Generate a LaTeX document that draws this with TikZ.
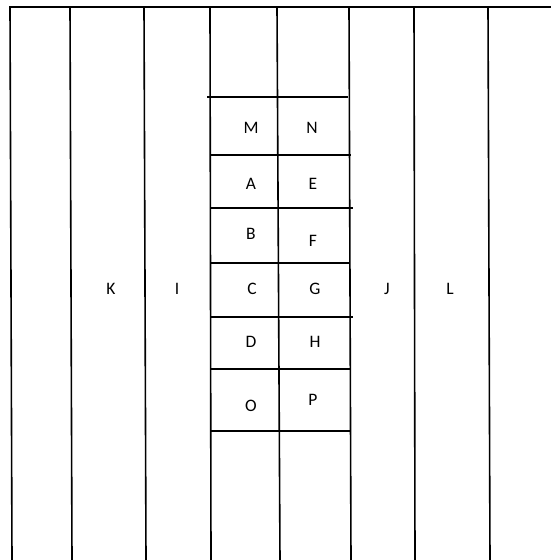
\documentclass[tikz,border=0pt]{standalone}
\usepackage{fontspec}
\setmainfont{Carlito}
\begin{document}
\begin{tikzpicture}[x=1pt,y=-1pt,
  rule/.style={line width=1.6pt,black},
  lbl/.style={font=\fontsize{17.5}{20}\selectfont,inner sep=0pt}]
\useasboundingbox (0,0) rectangle (551,560);
% top line
\draw[rule] (9,7) -- (551,7);
% vertical lines
\draw[rule] (10,7) -- (12,560);
\draw[rule] (70,7) -- (72,560);
\draw[rule] (144,7) -- (146,560);
\draw[rule] (210,7) -- (211,560);
\draw[rule] (277,7) -- (280,560);
\draw[rule] (349,7) -- (351,560);
\draw[rule] (414,7) -- (415,560);
\draw[rule] (488,7) -- (490,560);
% horizontal lines in the middle columns
\draw[rule] (207,97) -- (348,97);
\draw[rule] (211,155) -- (351,155);
\draw[rule] (211,208) -- (353,208);
\draw[rule] (210,263) -- (350,263);
\draw[rule] (210,317) -- (353,317);
\draw[rule] (210,369) -- (350,369);
\draw[rule] (210,431) -- (350,431);
% labels
\node[lbl] (M) at (251,128) {M};
\node[lbl] (N) at (312,128) {N};
\node[lbl] (A) at (251,184) {A};
\node[lbl] (E) at (313,184) {E};
\node[lbl] (B) at (251,234) {B};
\node[lbl] (F) at (313,241) {F};
\node[lbl] (C) at (252,289) {C};
\node[lbl] (G) at (315,289) {G};
\node[lbl] (D) at (251,342) {D};
\node[lbl] (H) at (315,342) {H};
\node[lbl] (O) at (251,406) {O};
\node[lbl] (P) at (313,400) {P};
\node[lbl] (K) at (111,289) {K};
\node[lbl] (I) at (177,289) {I};
\node[lbl] (J) at (387,289) {J};
\node[lbl] (L) at (450,289) {L};
\end{tikzpicture}
\end{document}
